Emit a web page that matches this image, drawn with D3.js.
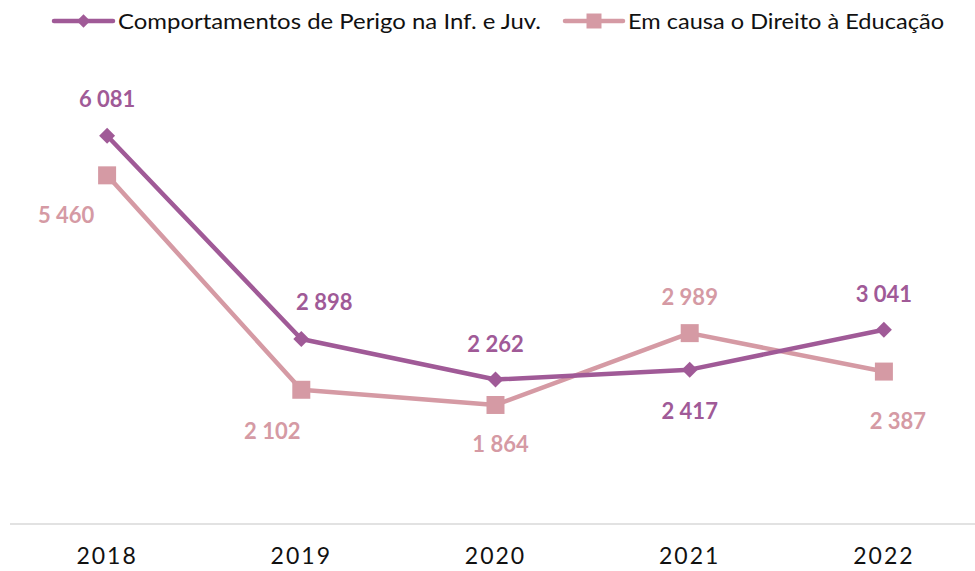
<!DOCTYPE html>
<html>
<head>
<meta charset="utf-8">
<script src="https://cdn.jsdelivr.net/npm/d3@7"></script>
<style>
  html, body { margin: 0; padding: 0; background: #fff; }
  svg { display: block; font-family: Lato, "Open Sans", sans-serif; }
</style>
</head>
<body>
<div id="chart"></div>
<script>
var years = ["2018", "2019", "2020", "2021", "2022"];
var perigo = [6081, 2898, 2262, 2417, 3041];
var educacao = [5460, 2102, 1864, 2989, 2387];
var seriesNames = ["Comportamentos de Perigo na Inf. e Juv.", "Em causa o Direito à Educação"];

// label nudges (dx, dy) relative to each point, as Excel left them
var perigoLabelOffsets = [[0, -36], [23, -37], [0, -35], [0, 42], [0, -36]];
var educacaoLabelOffsets = [[-41, 40], [-29, 42], [5, 39], [0, -36], [14, 50]];

(function () {
  var width = 975, height = 571;
  var purple = "#A05A97", pink = "#D59AA4";

  var svg = d3.select("#chart").append("svg")
    .attr("width", width)
    .attr("height", height);

  var x = d3.scaleBand().domain(years).range([10, 981]);
  var y = d3.scaleLinear().domain([0, 7000]).range([524, 77]);
  var fmt = function (v) { return d3.format(",")(v).replace(/,/g, " "); };
  var cx = function (i) { return x(years[i]) + x.bandwidth() / 2; };

  // baseline
  svg.append("line")
    .attr("x1", 10).attr("x2", 975)
    .attr("y1", y(0)).attr("y2", y(0))
    .attr("stroke", "#d9d9d9").attr("stroke-width", 1.5);

  var xAxis = svg.append("g")
    .attr("transform", "translate(0," + y(0) + ")")
    .call(d3.axisBottom(x).tickSize(0).tickPadding(24));
  xAxis.select(".domain").remove();
  xAxis.selectAll("text")
    .attr("font-size", 23)
    .attr("font-family", "Lato, sans-serif")
    .attr("letter-spacing", 2)
    .attr("fill", "#111");

  var diamond = function (side) {
    return function (sel) {
      sel.attr("d", d3.symbol().type(d3.symbolSquare).size(side * side)());
    };
  };

  var series = [
    { name: seriesNames[0], values: perigo, color: purple, diamond: true, side: 11.3, legendSide: 9.5,
      offsets: perigoLabelOffsets, legendX: 54, legendLen: 59, textLen: 423 },
    { name: seriesNames[1], values: educacao, color: pink, diamond: false, side: 18, legendSide: 15,
      offsets: educacaoLabelOffsets, legendX: 565, legendLen: 58, textLen: 316 }
  ];

  var line = d3.line()
    .x(function (d, i) { return cx(i); })
    .y(function (d) { return y(d); });

  // pink first so purple sits on top
  series.slice().reverse().forEach(function (s) {
    svg.append("path")
      .attr("d", line(s.values))
      .attr("fill", "none")
      .attr("stroke", s.color)
      .attr("stroke-width", 4.5)
      .attr("stroke-linejoin", "round");
  });

  series.slice().reverse().forEach(function (s) {
    svg.append("g").selectAll("path")
      .data(s.values)
      .enter().append("path")
      .call(diamond(s.side))
      .attr("transform", function (d, i) {
        return "translate(" + cx(i) + "," + y(d) + ")" + (s.diamond ? " rotate(45)" : "");
      })
      .attr("fill", s.color);
  });

  series.forEach(function (s) {
    svg.append("g").selectAll("text")
      .data(s.values)
      .enter().append("text")
      .attr("x", function (d, i) { return cx(i) + s.offsets[i][0]; })
      .attr("y", function (d, i) { return y(d) + s.offsets[i][1]; })
      .attr("dy", "0.35em")
      .attr("text-anchor", "middle")
      .attr("font-size", 22)
      .attr("font-weight", "bold")
      .attr("fill", s.color)
      .text(fmt);
  });

  // legend
  var lg = svg.append("g").selectAll("g")
    .data(series)
    .enter().append("g")
    .attr("transform", function (d) { return "translate(" + d.legendX + ",21)"; });
  lg.append("line")
    .attr("x1", 0).attr("x2", function (d) { return d.legendLen; })
    .attr("stroke", function (d) { return d.color; })
    .attr("stroke-width", 4.5)
    .attr("stroke-linecap", "round");
  lg.append("path")
    .attr("d", function (d) { return d3.symbol().type(d3.symbolSquare).size(d.legendSide * d.legendSide)(); })
    .attr("transform", function (d) {
      return "translate(" + (d.legendLen / 2) + ",0)" + (d.diamond ? " rotate(45)" : "");
    })
    .attr("fill", function (d) { return d.color; });
  lg.append("text")
    .attr("x", function (d) { return d.legendLen + 5; })
    .attr("dy", "0.35em")
    .attr("font-size", 22)
    .attr("fill", "#111")
    .attr("textLength", function (d) { return d.textLen; })
    .attr("lengthAdjust", "spacingAndGlyphs")
    .text(function (d) { return d.name; });
})();
</script>
</body>
</html>
